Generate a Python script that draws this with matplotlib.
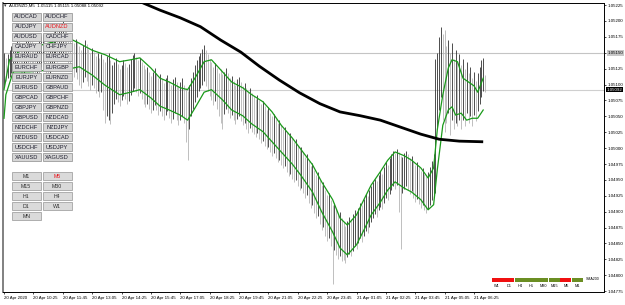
import numpy as np
import matplotlib.pyplot as plt
from matplotlib.patches import Rectangle
from matplotlib.transforms import blended_transform_factory

plt.rcParams['font.family'] = ['Liberation Sans', 'DejaVu Sans']

# AUDNZD M5 bars, prices in points above 1.04000
bar_high = [1150, 1142, 1148, 1155, 1160, 1158, 1165, 1170, 1168, 1162, 1158, 1165, 1172, 1178, 1175, 1168,
            1160, 1155, 1162, 1170, 1176, 1180, 1174, 1166, 1160, 1168, 1175, 1182, 1188, 1185, 1190, 1196,
            1200, 1194, 1186, 1180, 1176, 1170,
            1165, 1172, 1168, 1160, 1155, 1162, 1170, 1164, 1156, 1150, 1158, 1152, 1145, 1150, 1142, 1148,
            1140, 1135, 1145, 1150, 1138, 1130, 1136, 1142, 1132, 1125, 1130, 1138, 1134, 1128, 1132, 1140,
            1146, 1150, 1144, 1138, 1142, 1136,
            1130, 1124, 1128, 1120, 1114, 1120, 1126, 1118, 1110, 1116, 1108, 1102, 1110, 1115, 1106, 1100,
            1108, 1112, 1104, 1098, 1104, 1110, 1100, 1094, 1090,
            1100, 1110, 1120, 1130, 1138, 1145, 1150, 1156, 1162, 1155, 1148, 1140,
            1135, 1128, 1134, 1126, 1118, 1124, 1116, 1120, 1126, 1118, 1110, 1114, 1106, 1100, 1108, 1112,
            1104, 1098, 1102, 1094, 1088, 1094, 1086,
            1082, 1078, 1084, 1076, 1070, 1074, 1066, 1060, 1064, 1056, 1050, 1054, 1046, 1040, 1044, 1036,
            1030, 1034, 1026, 1020, 1024, 1016, 1010, 1014, 1004, 998, 1002,
            994, 986, 990, 980, 972, 976, 966, 958, 962, 950, 942, 946, 934, 926, 930, 918, 910, 914, 904, 896,
            900, 890,
            884, 878, 886, 892, 888, 896, 902, 898, 906, 914, 910, 920, 928, 924, 934, 940,
            946, 952, 948, 958, 964, 960, 970, 978, 974, 984, 990, 996, 992, 998, 994, 988,
            986, 992, 996, 990, 984, 988, 980, 974, 978, 970, 964, 968, 960, 956, 962, 970, 980,
            990, 1140, 1150, 1175, 1190,
            1180, 1186, 1160, 1170, 1150, 1165, 1140, 1155, 1135, 1148, 1130,
            1140, 1125, 1135, 1118, 1128, 1110, 1120, 1105, 1118, 1128, 1138, 1142, 1115]
bar_low = [1098, 1105, 1110, 1112, 1118, 1120, 1125, 1130, 1122, 1115, 1110, 1118, 1128, 1135, 1130, 1120,
           1112, 1105, 1110, 1120, 1128, 1135, 1126, 1118, 1110, 1116, 1124, 1132, 1140, 1136, 1142, 1148,
           1150, 1145, 1138, 1130, 1124, 1118,
           1112, 1120, 1108, 1100, 1095, 1104, 1112, 1106, 1098, 1092, 1100, 1094, 1086, 1090, 1080, 1088,
           1060, 1040, 1050, 1045, 1038, 1055, 1070, 1078, 1072, 1066, 1075, 1082, 1078, 1070, 1074, 1084,
           1090, 1095, 1088, 1082, 1086, 1078,
           1070, 1064, 1070, 1062, 1056, 1060, 1068, 1060, 1052, 1058, 1050, 1044, 1052, 1058, 1048, 1040,
           1046, 1055, 1045, 1036, 1044, 1050, 1040, 1010, 982,
           1030, 1050, 1062, 1072, 1080, 1090, 1095, 1100, 1105, 1098, 1090, 1082,
           1075, 1068, 1074, 1062, 1050, 1040, 1030, 1054, 1062, 1056, 1048, 1052, 1044, 1038, 1046, 1050,
           1042, 1036, 1040, 1030, 1024, 1032, 1026,
           1022, 1018, 1024, 1014, 1008, 1012, 1004, 998, 1002, 994, 988, 992, 984, 978, 982, 974,
           968, 972, 962, 956, 960, 952, 946, 950, 940, 934, 938,
           930, 922, 926, 914, 906, 910, 898, 890, 894, 880, 872, 876, 862, 854, 858, 846, 786, 840, 832, 826,
           830, 822,
           824, 820, 828, 834, 830, 838, 846, 842, 850, 858, 852, 862, 870, 866, 876, 884,
           890, 896, 892, 902, 908, 904, 914, 922, 918, 928, 934, 940, 936, 942, 900, 842,
           930, 936, 940, 934, 928, 932, 922, 916, 920, 912, 906, 910, 902, 898, 904, 910, 918,
           925, 930, 1030, 1060, 1080,
           1045, 1025, 1040, 1055, 1020, 1045, 1030, 1040, 1035, 1045, 1030,
           1045, 1035, 1055, 1040, 1050, 1035, 1052, 1042, 1058, 1070, 1080, 1090, 1088]

# green channel lines (bar index, points above 1.04000)
upper_idx = [0, 3, 9, 20, 31, 36, 41, 48, 55, 63, 69, 74, 80, 85, 90, 96, 100, 104, 109, 113, 119, 124,
             130, 135, 141, 146, 151, 157, 162, 168, 173, 179, 183, 187, 192, 196, 200, 205, 209, 213, 218,
             222, 227, 231, 234, 236, 239, 242, 244, 247, 250, 253, 256, 258, 261]
upper_pts = [1092, 1139, 1154, 1162, 1170, 1172, 1165, 1154, 1147, 1136, 1139, 1142, 1126, 1110, 1104, 1095,
             1092, 1110, 1136, 1139, 1120, 1104, 1095, 1084, 1073, 1057, 1036, 1016, 997, 974, 947, 919, 890,
             879, 895, 919, 942, 963, 981, 994, 988, 981, 969, 953, 969, 1029, 1084, 1126, 1139, 1136, 1110,
             1104, 1098, 1088, 1110]
lower_idx = [0, 1, 5, 14, 25, 36, 41, 48, 55, 63, 69, 74, 80, 85, 90, 96, 100, 104, 109, 113, 119, 124,
             130, 135, 141, 146, 151, 157, 162, 168, 173, 179, 183, 187, 192, 196, 200, 205, 209, 213, 218,
             222, 227, 231, 234, 236, 239, 242, 244, 246, 249, 252, 255, 258, 261]
lower_pts = [1047, 1084, 1120, 1120, 1123, 1125, 1128, 1115, 1099, 1084, 1088, 1092, 1079, 1066, 1060, 1052,
             1044, 1063, 1088, 1092, 1076, 1060, 1051, 1038, 1026, 1010, 994, 975, 956, 931, 900, 868, 843,
             832, 848, 871, 895, 915, 934, 947, 937, 931, 919, 903, 911, 966, 1036, 1060, 1065, 1052, 1055,
             1044, 1047, 1047, 1060]
# SMA200
sma_idx = [52, 76, 85, 96, 107, 118, 129, 139, 150, 161, 172, 183, 194, 205, 216, 227, 237, 248, 261]
sma_pts = [1264, 1228, 1217, 1205, 1191, 1170, 1151, 1129, 1107, 1087, 1070, 1057, 1051, 1044, 1033, 1022,
           1014, 1011, 1010]

level_line = 1.05150
bid = 1.05092
header = "AUDNZD,M5  1.05115 1.05115 1.05088 1.05092"

time_labels = ["20 Apr 2020", "20 Apr 10:25", "20 Apr 11:45", "20 Apr 13:05", "20 Apr 14:25",
               "20 Apr 15:45", "20 Apr 17:05", "20 Apr 18:25", "20 Apr 19:45", "20 Apr 21:05",
               "20 Apr 22:25", "20 Apr 23:45", "21 Apr 01:05", "21 Apr 02:25", "21 Apr 03:45",
               "21 Apr 05:05", "21 Apr 06:25"]
price_ticks = [1.04775, 1.04800, 1.04825, 1.04850, 1.04875, 1.04900, 1.04925, 1.04950, 1.04975, 1.05000,
               1.05025, 1.05050, 1.05075, 1.05100, 1.05125, 1.05150, 1.05175, 1.05200, 1.05225]

pair_buttons = [["AUDCAD", "AUDCHF"], ["AUDJPY", "AUDNZD"], ["AUDUSD", "CADCHF"], ["CADJPY", "CHFJPY"],
                ["EURAUD", "EURCAD"], ["EURCHF", "EURGBP"], ["EURJPY", "EURNZD"], ["EURUSD", "GBPAUD"],
                ["GBPCAD", "GBPCHF"], ["GBPJPY", "GBPNZD"], ["GBPUSD", "NZDCAD"], ["NZDCHF", "NZDJPY"],
                ["NZDUSD", "USDCAD"], ["USDCHF", "USDJPY"], ["XAUUSD", "XAGUSD"]]
tf_buttons = [["M1", "M5"], ["M15", "M30"], ["H1", "H4"], ["D1", "W1"], ["MN"]]
active = ["AUDNZD", "M5"]

trend_tf = ["W1", "D1", "H4", "H1", "M30", "M15", "M5", "M1"]
trend_up = [False, False, True, True, True, True, False, True]

high = 1.04 + np.array(bar_high) / 1e5
low = 1.04 + np.array(bar_low) / 1e5
idx = np.arange(len(high))
mid = (high + low) / 2
rising = np.r_[True, mid[1:] >= mid[:-1]]
colors = np.where(rising, '#303030', '#b4b4b4')

W, H = 625, 305
fig = plt.figure(figsize=(W / 100, H / 100), dpi=100)
fig.patch.set_facecolor('white')
ax = fig.add_axes([3 / W, 13 / H, 601 / W, 289 / H])
ax.set_xlim(-0.55, 326.8)
ax.set_ylim(1.047737, 1.052283)

ax.axhline(level_line, color='#c4c4c4', lw=0.8, zorder=1)
ax.axhline(bid, color='#cfcfcf', lw=0.8, zorder=1)
ax.vlines(idx, low, high, colors=colors, lw=0.6, zorder=2)
ax.plot(upper_idx, 1.04 + np.array(upper_pts) / 1e5, color='#1a9a1a', lw=0.9, zorder=3)
ax.plot(lower_idx, 1.04 + np.array(lower_pts) / 1e5, color='#1a9a1a', lw=0.9, zorder=3)
ax.plot(sma_idx, 1.04 + np.array(sma_pts) / 1e5, color='black', lw=2.0, zorder=4, solid_capstyle='butt')

ax.set_xticks(np.arange(len(time_labels)) * 16)
ax.set_xticklabels(time_labels, fontsize=3.2, ha='left')
ax.yaxis.tick_right()
ax.set_yticks(price_ticks)
ax.set_yticklabels(['%.5f' % p for p in price_ticks], fontsize=3.2)
ax.tick_params(axis='both', length=1.6, width=0.5, pad=1.2, colors='black')
for lbl in ax.get_yticklabels():
    if lbl.get_text() == '%.5f' % level_line:
        lbl.set_bbox(dict(facecolor='#c8c8c8', edgecolor='none', pad=0.6))
for s in ax.spines.values():
    s.set_linewidth(0.7)
ax.spines['left'].set_color('#808080')
ax.spines['left'].set_linewidth(1.4)

tr = blended_transform_factory(ax.transAxes, ax.transData)
ax.annotate('%.5f' % bid, xy=(1.0, bid), xycoords=tr, xytext=(2.0, 0), textcoords='offset points',
            fontsize=3.2, color='white', va='center', ha='left',
            bbox=dict(facecolor='black', edgecolor='none', pad=0.6), annotation_clip=False)

# overlay in pixel coordinates for chart objects
ov = fig.add_axes([0, 0, 1, 1], zorder=5)
ov.set_xlim(0, W)
ov.set_ylim(H, 0)
ov.axis('off')
ov.patch.set_alpha(0)

ov.text(4, 5.5, '\u25BE', fontsize=3.5, va='center', ha='left', color='#303030')
ov.text(9, 5.5, header, fontsize=3.2, va='center', ha='left', color='black')

col_x = [11.7, 42.7]
for r, row in enumerate(pair_buttons):
    yc = 16.5 + r * 10.05
    for c, name in enumerate(row):
        ov.add_patch(Rectangle((col_x[c], yc - 4), 29, 8, facecolor='#d6d6d6', edgecolor='#9c9c9c', lw=0.6))
        ov.text(col_x[c] + 14.5, yc + 0.3, name, fontsize=4.1, ha='center', va='center',
                color='#e8141b' if name in active else '#1c1c2c')
for r, row in enumerate(tf_buttons):
    yc = 176 + r * 10
    for c, name in enumerate(row):
        ov.add_patch(Rectangle((col_x[c], yc - 4), 29, 8, facecolor='#dadada', edgecolor='#a4a4a4', lw=0.6))
        ov.text(col_x[c] + 14.5, yc + 0.3, name, fontsize=3.8, ha='center', va='center',
                color='#e8141b' if name in active else '#303030')

for k, (name, up) in enumerate(zip(trend_tf, trend_up)):
    x0 = 491.8 + k * 11.42
    ov.add_patch(Rectangle((x0, 278.3), 11, 3.6, facecolor='#6b8e23' if up else '#f01010', edgecolor='none'))
    ov.text(x0 + 5.5, 286, name, fontsize=2.8, ha='center', va='center', color='black')
ov.text(586, 279.5, 'SMA200', fontsize=2.6, ha='left', va='center', color='black')

fig.savefig('out.png', dpi=100)
